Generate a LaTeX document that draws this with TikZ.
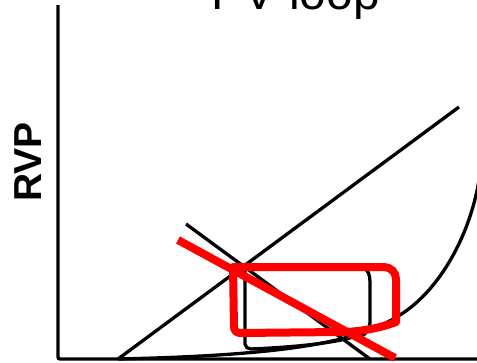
\documentclass[tikz,border=0pt]{standalone}
\usepackage{fontspec}
\setmainfont{Liberation Sans}
\begin{document}
\begin{tikzpicture}[x=1pt,y=-1pt,
  blk/.style={draw=black,line width=3.3pt},
  redl/.style={draw=red,line width=8pt},
  lbl/.style={inner sep=0pt}]
\useasboundingbox (0,0) rectangle (477,362);
% axes
\coordinate (ytop) at (58,5);
\coordinate (orig) at (58,359);
\coordinate (xend) at (480,359);
\draw[blk,rounded corners=2pt] (ytop) -- (orig) -- (xend);
% title and axis label
\node[lbl,anchor=base] (title) at (296,9) {\fontsize{48}{56}\selectfont PV loop};
\node[lbl,rotate=90] (rvp) at (28,162) {\fontsize{39}{46}\selectfont\bfseries RVP};
% ESPVR line
\coordinate (e1) at (118,359);
\coordinate (e2) at (459,107);
\draw[blk] (e1) -- (e2);
% Ea line
\coordinate (a1) at (186,224);
\coordinate (a2) at (370,359);
\draw[blk] (a1) -- (a2);
% EDPVR curve
\draw[blk] (118,359) .. controls (300,355) and (360,340) .. (400,315)
  .. controls (440,290) and (470,235) .. (479,180);
% black PV loop
\draw[blk,line join=round] (245,268) -- (245,344) to[out=-90,in=180] (251,349)
  .. controls (300,347) and (340,342) .. (356,336)
  to[out=-20,in=-90] (370,322) -- (370,282) to[out=90,in=0] (362,268) -- cycle;
% red loop
\draw[redl,line join=round] (233,267) -- (384,267) to[out=0,in=90] (396,279) -- (396,322)
  .. controls (380,328) and (360,332) .. (340,332) -- (240,333) to[out=180,in=-90] (234,327) -- cycle;
% red line
\coordinate (r1) at (178,240);
\coordinate (r2) at (395,358);
\draw[redl] (r1) -- (r2);
\end{tikzpicture}
\end{document}
